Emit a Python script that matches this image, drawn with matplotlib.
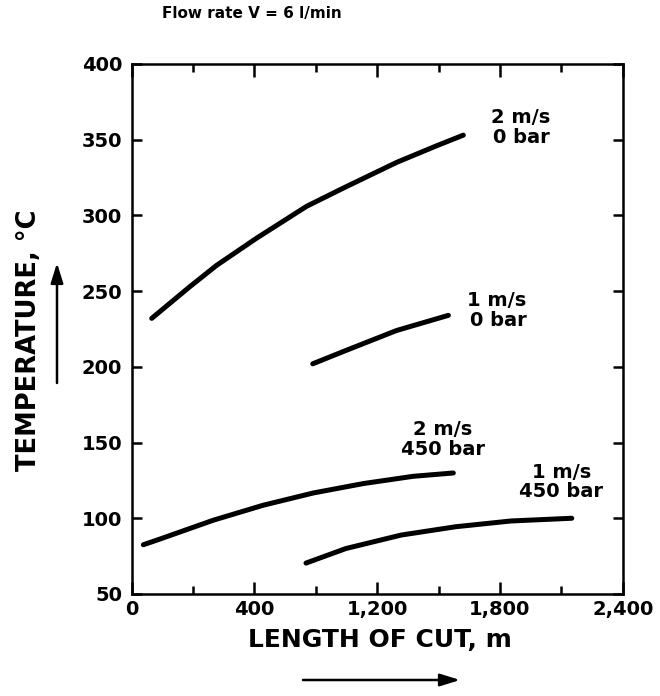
import numpy as np
import matplotlib.pyplot as plt
from matplotlib.ticker import FixedLocator

# cutting-temperature curves: length of cut (m) vs temperature (deg C)
len_2ms_0bar = [98, 285, 415, 611, 855, 1034, 1295, 1491, 1621]
temp_2ms_0bar = [232, 253, 267, 285, 306, 318, 335, 346, 353]

len_1ms_0bar = [885, 1051, 1295, 1548]
temp_1ms_0bar = [202, 211, 224, 234]

len_2ms_450bar = [57, 122, 399, 643, 888, 1132, 1376, 1572]
temp_2ms_450bar = [82.5, 85.5, 98.7, 108.6, 116.7, 122.9, 127.7, 129.9]

len_1ms_450bar = [852, 1047, 1317, 1584, 1854, 2151]
temp_1ms_450bar = [70.4, 80, 88.9, 94.4, 98.2, 100]

x_ticks = [0, 600, 1200, 1800, 2400]
x_tick_labels = ['0', '400', '1,200', '1,800', '2,400']
x_minor = [300, 900, 1500, 2100]
y_ticks = [50, 100, 150, 200, 250, 300, 350, 400]

plt.rcParams.update({"font.family": "DejaVu Sans", "font.size": 15,
                     "font.weight": "bold"})

fig = plt.figure(figsize=(6.6, 6.96), dpi=100)
ax = fig.add_axes([0.1995, 0.1466, 0.744, 0.7615])

curves = [
    (len_2ms_0bar, temp_2ms_0bar),
    (len_1ms_0bar, temp_1ms_0bar),
    (len_2ms_450bar, temp_2ms_450bar),
    (len_1ms_450bar, temp_1ms_450bar),
]
for xs, ys in curves:
    ax.plot(xs, ys, color='black', lw=3.6, solid_capstyle='round',
            solid_joinstyle='round')

# curve labels
lab = dict(fontsize=14, linespacing=1.05, va='center')
ax.text(2045, 358, '2 m/s\n0 bar', ha='right', multialignment='right', **lab)
ax.text(1785, 237, '1 m/s\n0 bar', ha='center', multialignment='right', **lab)
ax.text(1522, 152, '2 m/s\n450 bar', ha='center', **lab)
ax.text(2100, 124, '1 m/s\n450 bar', ha='center', **lab)

ax.set_xlim(0, 2400)
ax.set_ylim(50, 400)
ax.set_xticks(x_ticks)
ax.set_xticklabels(x_tick_labels)
ax.xaxis.set_minor_locator(FixedLocator(x_minor))
ax.set_yticks(y_ticks)

for s in ax.spines.values():
    s.set_linewidth(1.8)
ax.tick_params(which='both', direction='in', top=True, right=True,
               width=1.8, labelsize=14)
ax.tick_params(axis='x', which='major', length=9, pad=4)
ax.tick_params(axis='x', which='minor', length=6)
ax.tick_params(axis='y', which='major', length=7, pad=7)

# axis titles with direction arrows
fig.text(29 / 660, 1 - 340 / 696, 'TEMPERATURE, \u00b0C', rotation=90,
         ha='center', va='center', fontsize=18.5)
fig.text(380 / 660, 1 - 640 / 696, 'LENGTH OF CUT, m',
         ha='center', va='center', fontsize=18)

arrow = dict(arrowstyle='-|>,head_length=0.8,head_width=0.25',
             color='black', lw=1.8, shrinkA=0, shrinkB=0)
ax.annotate('', xy=(57, 696 - 263), xytext=(57, 696 - 383),
            xycoords='figure pixels', textcoords='figure pixels',
            arrowprops=arrow)
ax.annotate('', xy=(460, 696 - 680), xytext=(303, 696 - 680),
            xycoords='figure pixels', textcoords='figure pixels',
            arrowprops=arrow)

# caption above the frame
fig.text(252 / 660, 1 - 18 / 696, 'Flow rate V = 6 l/min', ha='center',
         va='baseline', fontsize=11)

fig.savefig('out.png', dpi=100)
